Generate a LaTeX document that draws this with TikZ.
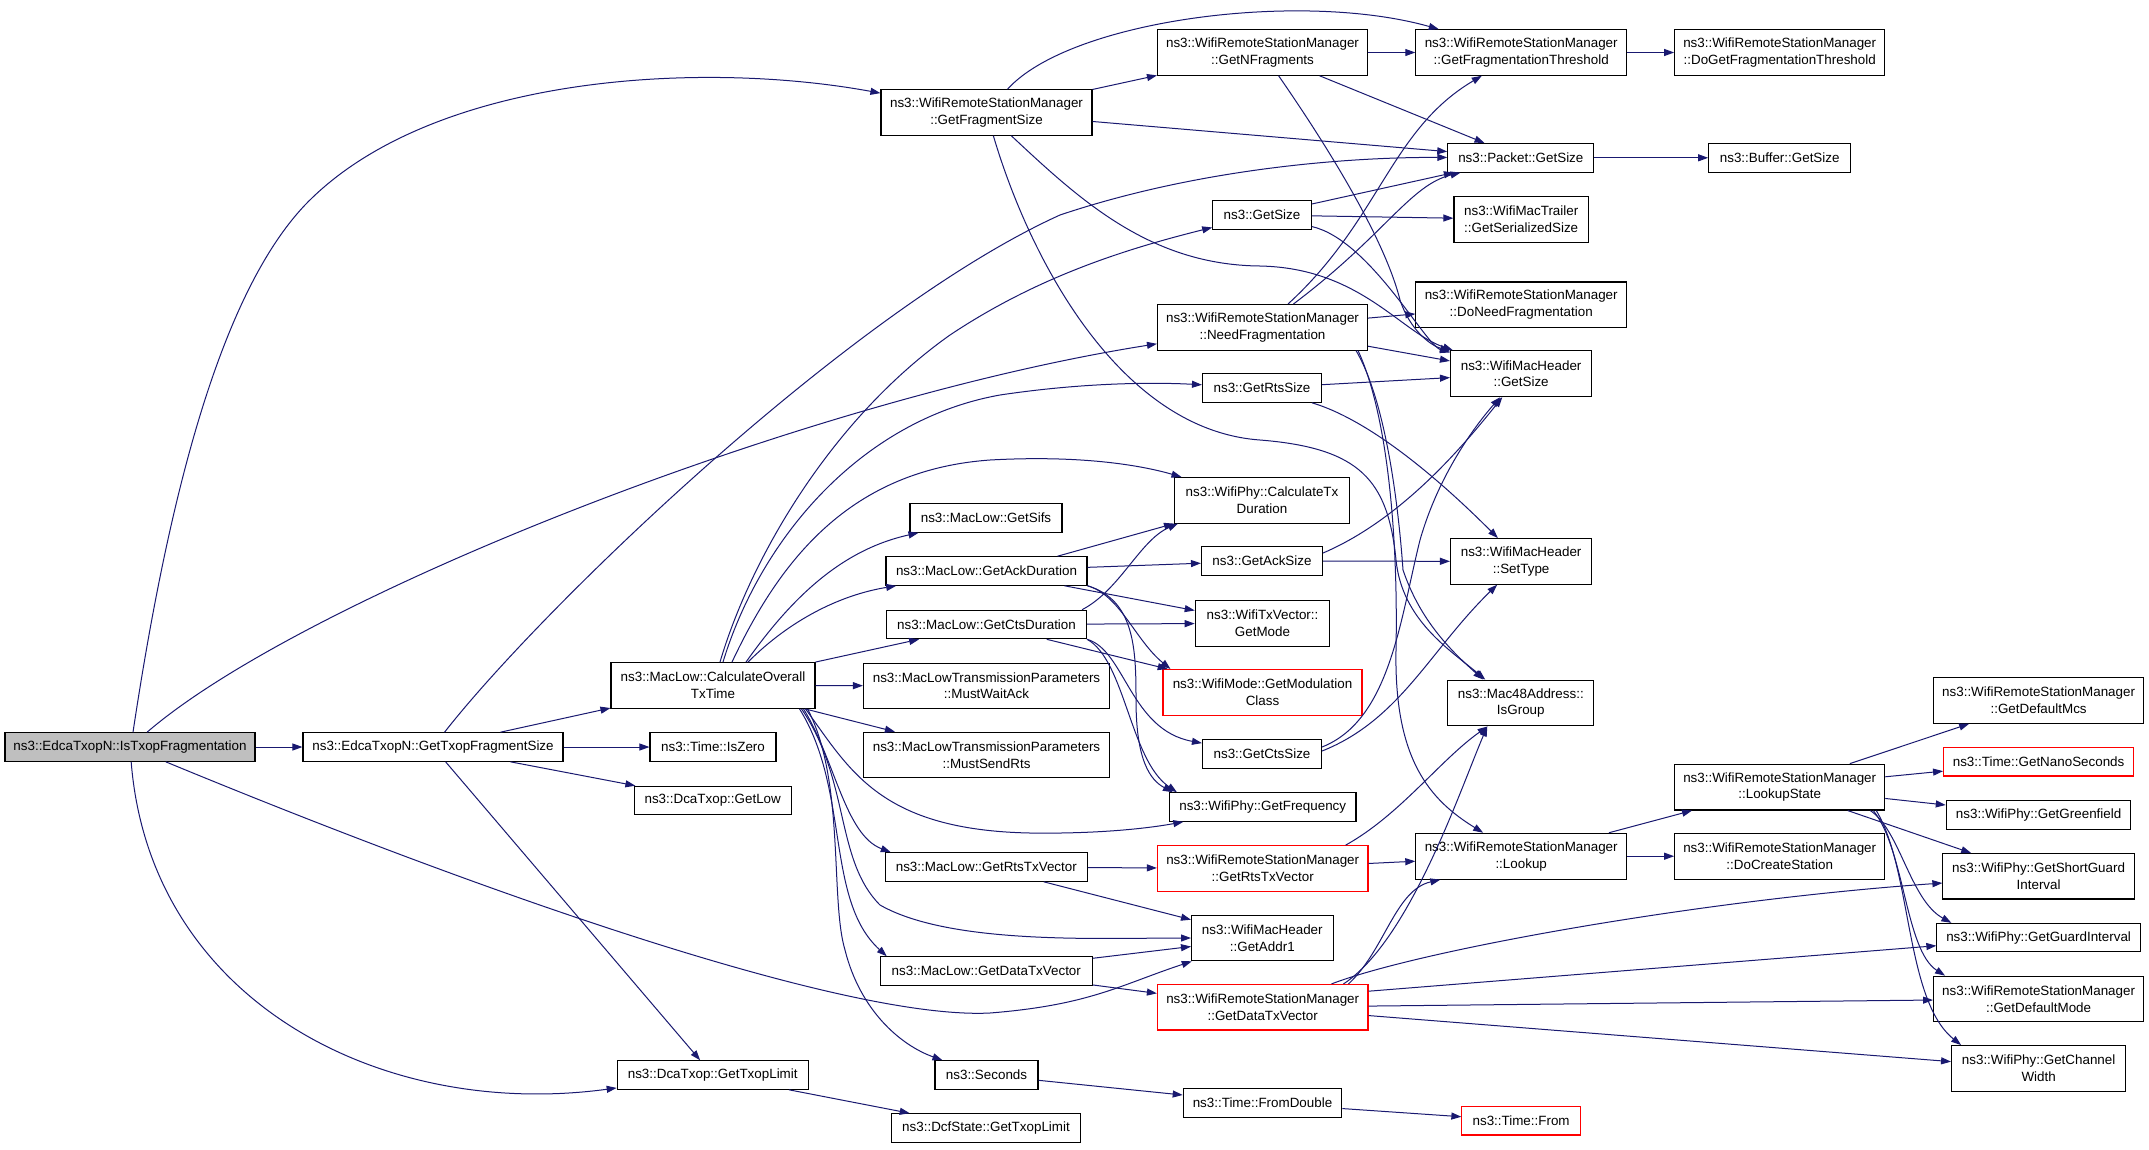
\documentclass[tikz,border=0pt]{standalone}
\usepackage{fontspec}
\setmainfont{Liberation Sans}
\usetikzlibrary{arrows.meta,calc}
\definecolor{edgecol}{RGB}{25,25,112}
\definecolor{rootfill}{RGB}{191,191,191}
\begin{document}
\begin{tikzpicture}[x=1pt,y=-1pt,
  fn/.style={draw=black, line width=1.1pt, fill=white, inner sep=0pt, align=center,
     font={\fontsize{13.4}{16.7}\selectfont}},
  one/.style={fn, minimum height=28.5},
  two/.style={fn, minimum height=45.5},
  redbox/.style={draw=red},
  rootbox/.style={fill=rootfill},
  ed/.style={draw=edgecol, line width=1pt, -{Triangle[length=10pt,width=7pt,fill=edgecol]}}]
\fill[white] (0,0) rectangle (2149,1149);
\useasboundingbox (0,0) rectangle (2149,1149);

% column 0-2
\node[one, rootbox, minimum width=250] (isTF) at (130,747) {ns3::EdcaTxopN::IsTxopFragmentation};
\node[one, minimum width=260] (gtfs) at (433,747) {ns3::EdcaTxopN::GetTxopFragmentSize};
\node[two, minimum width=204, minimum height=45.8] (co) at (713,685.5) {ns3::MacLow::CalculateOverall\\TxTime};
\node[one, minimum width=126] (isZero) at (713,747) {ns3::Time::IsZero};
\node[one, minimum width=157] (getLow) at (712.7,800.5) {ns3::DcaTxop::GetLow};
\node[one, minimum width=191] (gtl) at (712.7,1075) {ns3::DcaTxop::GetTxopLimit};
% column 3
\node[two, minimum width=211] (gfs) at (986.5,112.5) {ns3::WifiRemoteStationManager\\::GetFragmentSize};
\node[one, minimum width=152] (gsifs) at (986,518) {ns3::MacLow::GetSifs};
\node[one, minimum width=201] (gad) at (986.5,571) {ns3::MacLow::GetAckDuration};
\node[one, minimum width=200] (gcd) at (986.5,624.5) {ns3::MacLow::GetCtsDuration};
\node[two, minimum width=246] (mwa) at (986.5,685.8) {ns3::MacLowTransmissionParameters\\::MustWaitAck};
\node[two, minimum width=246] (msr) at (986.5,755) {ns3::MacLowTransmissionParameters\\::MustSendRts};
\node[one, minimum width=202] (mgrtv) at (986.3,867) {ns3::MacLow::GetRtsTxVector};
\node[one, minimum width=212] (mgdtv) at (986.3,971) {ns3::MacLow::GetDataTxVector};
\node[one, minimum width=103] (secs) at (986.5,1075) {ns3::Seconds};
\node[one, minimum width=189] (dcfgtl) at (986,1128) {ns3::DcfState::GetTxopLimit};
% column 4
\node[two, minimum width=210] (gnf) at (1262.5,52.5) {ns3::WifiRemoteStationManager\\::GetNFragments};
\node[one, minimum width=98.5] (gs) at (1262,215) {ns3::GetSize};
\node[two, minimum width=210] (nf) at (1262.5,327.3) {ns3::WifiRemoteStationManager\\::NeedFragmentation};
\node[one, minimum width=119] (grs) at (1262,388) {ns3::GetRtsSize};
\node[two, minimum width=175] (ctd) at (1262,500.3) {ns3::WifiPhy::CalculateTx\\Duration};
\node[one, minimum width=121] (gas) at (1262,561) {ns3::GetAckSize};
\node[two, minimum width=134.5] (gmode) at (1262.5,623.3) {ns3::WifiTxVector::\\GetMode};
\node[two, redbox, minimum width=199] (gmc) at (1262.5,692.3) {ns3::WifiMode::GetModulation\\Class};
\node[one, minimum width=119] (gcs) at (1262,754) {ns3::GetCtsSize};
\node[one, minimum width=186.5] (gfreq) at (1262.7,807) {ns3::WifiPhy::GetFrequency};
\node[two, redbox, minimum width=210.5] (wgrtv) at (1262.7,868.5) {ns3::WifiRemoteStationManager\\::GetRtsTxVector};
\node[two, minimum width=141.5] (getAddr1) at (1262.3,938) {ns3::WifiMacHeader\\::GetAddr1};
\node[two, redbox, minimum width=210.5] (wgdtv) at (1262.7,1007.2) {ns3::WifiRemoteStationManager\\::GetDataTxVector};
\node[one, minimum width=158.5] (fromDouble) at (1262.5,1103.1) {ns3::Time::FromDouble};
% column 5
\node[two, minimum width=210.7] (gft) at (1521.2,52.5) {ns3::WifiRemoteStationManager\\::GetFragmentationThreshold};
\node[one, minimum width=146] (pgs) at (1520.8,157.8) {ns3::Packet::GetSize};
\node[two, minimum width=134.5] (gss) at (1521.2,219.3) {ns3::WifiMacTrailer\\::GetSerializedSize};
\node[two, minimum width=210.7] (dnf) at (1521.2,304.7) {ns3::WifiRemoteStationManager\\::DoNeedFragmentation};
\node[two, minimum width=141.2, minimum height=45.9] (wmhgs) at (1521.1,373.7) {ns3::WifiMacHeader\\::GetSize};
\node[two, minimum width=141.2] (setType) at (1521.1,561.4) {ns3::WifiMacHeader\\::SetType};
\node[two, minimum width=146, minimum height=45.8] (isGroup) at (1520.8,703) {ns3::Mac48Address::\\IsGroup};
\node[two, minimum width=210.7, minimum height=45.8] (lookup) at (1521.2,856.2) {ns3::WifiRemoteStationManager\\::Lookup};
\node[one, redbox, minimum width=118.4, minimum height=28.4] (timeFrom) at (1521.1,1120.8) {ns3::Time::From};
% column 6
\node[two, minimum width=210] (dogft) at (1779.7,52.5) {ns3::WifiRemoteStationManager\\::DoGetFragmentationThreshold};
\node[one, minimum width=142] (bgs) at (1779.7,157.8) {ns3::Buffer::GetSize};
\node[two, minimum width=210, minimum height=45.8] (ls) at (1779.7,787.1) {ns3::WifiRemoteStationManager\\::LookupState};
\node[two, minimum width=210, minimum height=45.8] (dcs) at (1779.7,856.2) {ns3::WifiRemoteStationManager\\::DoCreateStation};
% column 7
\node[two, minimum width=210, minimum height=45.4] (gdmcs) at (2038.6,700.5) {ns3::WifiRemoteStationManager\\::GetDefaultMcs};
\node[one, redbox, minimum width=190, minimum height=28.4] (gns) at (2038.6,761.8) {ns3::Time::GetNanoSeconds};
\node[one, minimum width=184.6, minimum height=28.4] (ggf) at (2038.6,815) {ns3::WifiPhy::GetGreenfield};
\node[two, minimum width=191.4, minimum height=45.4] (gsgi) at (2038.6,876.3) {ns3::WifiPhy::GetShortGuard\\Interval};
\node[one, minimum width=203.4, minimum height=28.4] (ggi) at (2038.6,937.6) {ns3::WifiPhy::GetGuardInterval};
\node[two, minimum width=210, minimum height=45.4] (gdmode) at (2038.6,998.9) {ns3::WifiRemoteStationManager\\::GetDefaultMode};
\node[two, minimum width=174, minimum height=45.8] (gcw) at (2038.6,1068.5) {ns3::WifiPhy::GetChannel\\Width};

% ---- edges from IsTxopFragmentation
\draw[ed] (isTF) -- (gtfs);
\draw[ed] ($(isTF.north)+(3,0)$) .. controls (165,520) and (215,300) .. (305,205) .. controls (430,75) and (700,60) .. (gfs);
\draw[ed] (isTF) .. controls (300,600) and (800,400) .. (nf);
\draw[ed] (isTF) .. controls (500,900) and (850,1020) .. (990,1013) .. controls (1090,1005) and (1120,985) .. (getAddr1);
\draw[ed] (isTF) .. controls (150,1000) and (380,1120) .. (gtl);
% ---- GetTxopFragmentSize
\draw[ed] (gtfs) -- (co);
\draw[ed] (gtfs) -- (isZero);
\draw[ed] (gtfs) -- (getLow);
\draw[ed] (gtfs) -- (gtl);
\draw[ed] (gtfs) .. controls (540,610) and (850,310) .. (1060,215) .. controls (1200,168) and (1350,157) .. (pgs);
% ---- GetFragmentSize
\draw[ed] (gfs) -- (gnf);
\draw[ed] (gfs) .. controls (1070,20) and (1300,-10) .. (gft);
\draw[ed] (gfs) -- (pgs);
\draw[ed] (gfs) .. controls (1080,200) and (1150,265) .. (1260,266) .. controls (1360,268) and (1400,332) .. (wmhgs);
\draw[ed] (gfs) .. controls (1030,260) and (1120,430) .. (1260,440) .. controls (1360,448) and (1388,480) .. (1396,560) .. controls (1402,620) and (1450,650) .. ($(isGroup.north west)+(38,0)$);
% ---- GetNFragments
\draw[ed] (gnf) -- (gft);
\draw[ed] (gnf) -- (pgs);
\draw[ed] (gnf) .. controls (1330,150) and (1385,240) .. (1400,300) .. controls (1410,330) and (1430,345) .. (wmhgs);
% ---- ns3::GetSize
\draw[ed] (gs) -- (pgs);
\draw[ed] (gs) -- (gss);
\draw[ed] (gs) .. controls (1370,240) and (1425,345) .. (wmhgs);
% ---- NeedFragmentation
\draw[ed] (nf) .. controls (1380,220) and (1390,130) .. (gft);
\draw[ed] (nf) .. controls (1385,235) and (1410,185) .. (pgs);
\draw[ed] (nf) -- (dnf);
\draw[ed] (nf) -- (wmhgs);
\draw[ed] ($(nf.south east)+(-12,0)$) .. controls (1385,400) and (1398,500) .. (1403,570) .. controls (1420,620) and (1450,650) .. ($(isGroup.north west)+(36,0)$);
\draw[ed] ($(nf.south east)+(-10,0)$) .. controls (1390,420) and (1398,550) .. (1396,650) .. controls (1394,760) and (1430,800) .. (lookup);
% ---- GetRtsSize
\draw[ed] (grs) -- (wmhgs);
\draw[ed] (grs) .. controls (1370,420) and (1440,480) .. (setType);
% ---- CalculateOverallTxTime
\draw[ed] ($(co.north)+(7,0)$) .. controls (750,560) and (830,420) .. (950,335) .. controls (1040,275) and (1130,248) .. (gs);
\draw[ed] ($(co.north)+(10,0)$) .. controls (760,540) and (860,420) .. (1000,395) .. controls (1080,383) and (1150,382) .. (grs);
\draw[ed] ($(co.north)+(19,0)$) .. controls (780,560) and (850,470) .. (990,460) .. controls (1080,455) and (1140,465) .. (ctd);
\draw[ed] ($(co.north)+(33,0)$) .. controls (790,600) and (840,550) .. (gsifs);
\draw[ed] ($(co.north)+(35,0)$) .. controls (790,620) and (840,595) .. (gad);
\draw[ed] (co.north east) -- (gcd);
\draw[ed] (co) -- (mwa);
\draw[ed] (co) -- (msr);
\draw[ed] ($(co.south east)+(-10,0)$) .. controls (850,770) and (880,830) .. (1030,833) .. controls (1100,834) and (1150,828) .. (gfreq);
\draw[ed] ($(co.south east)+(-12,0)$) .. controls (835,760) and (845,835) .. ($(mgrtv.north west)+(6,0)$);
\draw[ed] ($(co.south east)+(-14,0)$) .. controls (850,780) and (835,860) .. (880,905) .. controls (950,945) and (1100,938) .. (getAddr1);
\draw[ed] ($(co.south east)+(-16,0)$) .. controls (850,790) and (825,900) .. ($(mgdtv.north west)+(7,0)$);
\draw[ed] ($(co.south east)+(-8,0)$) .. controls (845,780) and (830,900) .. (845,950) .. controls (860,1010) and (900,1045) .. ($(secs.north west)+(8,0)$);
% ---- GetAckDuration
\draw[ed] ($(gad.north east)+(-30,0)$) -- (ctd.south west);
\draw[ed] (gad) -- (gas);
\draw[ed] (gad) -- (gmode);
\draw[ed] (gad.south east) .. controls (1120,595) and (1135,640) .. ($(gmc.north west)+(8,0)$);
\draw[ed] (gad.south east) .. controls (1135,600) and (1136,650) .. (1136,700) .. controls (1136,760) and (1150,780) .. ($(gfreq.north west)+(4,0)$);
% ---- GetCtsDuration
\draw[ed] ($(gcd.north east)+(-5,0)$) .. controls (1120,590) and (1140,540) .. ($(ctd.south west)+(4,0)$);
\draw[ed] (gcd) -- (gmode);
\draw[ed] (gcd) -- (gmc);
\draw[ed] (gcd.south east) .. controls (1125,650) and (1130,730) .. (gcs);
\draw[ed] (gcd.south east) .. controls (1125,660) and (1130,760) .. ($(gfreq.north west)+(8,0)$);
% ---- GetAckSize / GetCtsSize
\draw[ed] (gas) -- (setType);
\draw[ed] ($(gas.east)+(0,-8)$) .. controls (1400,520) and (1460,450) .. (wmhgs);
\draw[ed] ($(gcs.east)+(0,-7)$) .. controls (1390,720) and (1400,620) .. (1420,540) .. controls (1440,470) and (1480,420) .. (wmhgs);
\draw[ed] ($(gcs.east)+(0,-3)$) .. controls (1400,720) and (1430,650) .. (setType);
% ---- WRSM::GetRtsTxVector
\draw[ed] ($(wgrtv.north east)+(-23,0)$) .. controls (1400,815) and (1440,760) .. (isGroup);
\draw[ed] (wgrtv) -- (lookup);
% ---- MacLow::GetRtsTxVector / GetDataTxVector
\draw[ed] (mgrtv) -- (wgrtv);
\draw[ed] (mgrtv) -- (getAddr1);
\draw[ed] (mgdtv) -- (getAddr1);
\draw[ed] (mgdtv) -- (wgdtv);
% ---- WRSM::GetDataTxVector
\draw[ed] ($(wgdtv.north east)+(-25,0)$) .. controls (1410,940) and (1460,790) .. ($(isGroup.south west)+(40,0)$);
\draw[ed] ($(wgdtv.north east)+(-20,0)$) .. controls (1385,950) and (1395,890) .. ($(lookup.south west)+(25,0)$);
\draw[ed] ($(wgdtv.north east)+(-37,0)$) .. controls (1420,950) and (1700,900) .. (gsgi);
\draw[ed] ($(wgdtv.east)+(0,-16)$) -- (ggi);
\draw[ed] (wgdtv) -- (gdmode);
\draw[ed] (wgdtv) -- (gcw);
% ---- Lookup / LookupState
\draw[ed] (lookup) -- (ls);
\draw[ed] (lookup) -- (dcs);
\draw[ed] (ls) -- (gdmcs);
\draw[ed] (ls) -- (gns);
\draw[ed] (ls) -- (ggf);
\draw[ed] (ls) -- (gsgi);
\draw[ed] ($(ls.south east)+(-15,0)$) .. controls (1900,830) and (1910,900) .. ($(ggi.north west)+(15,0)$);
\draw[ed] ($(ls.south east)+(-12,0)$) .. controls (1905,850) and (1905,950) .. ($(gdmode.north west)+(12,0)$);
\draw[ed] ($(ls.south east)+(-9,0)$) .. controls (1912,870) and (1905,1000) .. ($(gcw.north west)+(10,0)$);
% ---- misc
\draw[ed] (pgs) -- (bgs);
\draw[ed] (gft) -- (dogft);
\draw[ed] (secs) -- (fromDouble);
\draw[ed] (fromDouble) -- (timeFrom);
\draw[ed] (gtl) -- (dcfgtl);
\end{tikzpicture}
\end{document}
